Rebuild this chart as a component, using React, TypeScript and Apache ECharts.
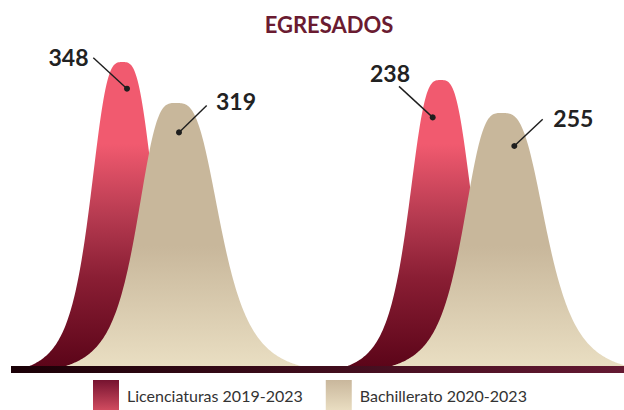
import React, { useEffect, useRef } from "react";
import * as echarts from "echarts";

// ---- data ----
const GROUPS = ["Grupo 1", "Grupo 2"];
const LICENCIATURAS = [348, 238];
const BACHILLERATO = [319, 255];
const SERIES_NAMES = ["Licenciaturas 2019-2023", "Bachillerato 2020-2023"];
const TITLE = "EGRESADOS";

// ---- styling / layout (not data) ----
const FONT = "Lato, 'Noto Sans', sans-serif";
const P = 3.3;
const RED_PROFILE = { aL: 35, aR: 35, bL: 93, bR: 93 };
const BEIGE_PROFILE = { aL: 42, aR: 48, bL: 110, bR: 125 };
const RED_LABELS = [
  { dot: [4.5, 26.6], start: [-29.2, -4.4], text: [-34, -5], align: "right" },
  { dot: [-8, 37.3], start: [-41.7, 6.3], text: [-30.7, -7], align: "right" },
];
const BEIGE_LABELS = [
  { dot: [3.3, 29.4], start: [31, 2.4], text: [40.3, -1.6], align: "left" },
  { dot: [12.6, 33], start: [41, 6.3], text: [51.6, 5], align: "left" },
];

function makeRenderItem(prof: any, labels: any[], kind: "red" | "beige") {
  return (params: any, api: any) => {
    const i = params.dataIndex;
    const cat = api.value(0);
    const v = api.value(1);
    const peak = api.coord([cat, v]);
    const cs = params.coordSys;
    const base = cs.y + cs.height;
    const H = base - peak[1];
    const pts: number[][] = [];
    for (let dx = -prof.bL; dx <= prof.bR; dx += 1) {
      const a = dx < 0 ? prof.aL : prof.aR;
      const B = dx < 0 ? prof.bL : prof.bR;
      const c = 1 / (1 + Math.pow(B / a, P));
      const r = (1 / (1 + Math.pow(Math.abs(dx) / a, P)) - c) / (1 - c);
      pts.push([peak[0] + dx, base - H * Math.max(0, r)]);
    }
    const fill =
      kind === "red"
        ? new echarts.graphic.LinearGradient(
            0, base - 222, 0, base,
            [
              { offset: 0, color: "#F15A6F" },
              { offset: 0.33, color: "#B53A50" },
              { offset: 0.6, color: "#8A1E34" },
              { offset: 1, color: "#5C0519" },
            ],
            true
          )
        : new echarts.graphic.LinearGradient(
            0, base - 120, 0, base,
            [
              { offset: 0, color: "#C8B79B" },
              { offset: 1, color: "#E9DEC2" },
            ],
            true
          );
    const L = labels[i];
    const dot = [peak[0] + L.dot[0], peak[1] + L.dot[1]];
    const st = [peak[0] + L.start[0], peak[1] + L.start[1]];
    return {
      type: "group",
      children: [
        { type: "polygon", shape: { points: pts }, style: { fill } },
        {
          type: "line",
          shape: { x1: st[0], y1: st[1], x2: dot[0], y2: dot[1] },
          style: { stroke: "#1E1E1E", lineWidth: 1.4 },
        },
        {
          type: "circle",
          shape: { cx: dot[0], cy: dot[1], r: 3 },
          style: { fill: "#1E1E1E" },
        },
        {
          type: "text",
          x: peak[0] + L.text[0],
          y: peak[1] + L.text[1],
          style: {
            text: String(v),
            fontFamily: FONT,
            fontWeight: "bold",
            fontSize: 23,
            fill: "#222222",
            align: L.align,
            verticalAlign: "middle",
          },
        },
      ],
    };
  };
}

export default function App() {
  const ref = useRef<HTMLDivElement>(null);
  useEffect(() => {
    if (!ref.current) return;
    const chart = echarts.init(ref.current, undefined, { renderer: "svg" });
    const redData = GROUPS.map((g, i) => [g, LICENCIATURAS[i]]);
    const beigeData = GROUPS.map((g, i) => [g, BACHILLERATO[i]]);
    chart.setOption({
      animation: false,
      backgroundColor: "#ffffff",
      title: {
        text: TITLE,
        left: 324,
        top: 8,
        textAlign: "center",
        textStyle: {
          fontFamily: FONT,
          fontWeight: "bold",
          fontSize: 22,
          color: "#6A1B31",
        },
      },
      legend: {
        left: 93,
        top: 380,
        padding: 0,
        itemWidth: 26,
        itemHeight: 30,
        itemGap: 23,
        icon: "rect",
        textStyle: {
          fontFamily: FONT,
          fontSize: 16,
          color: "#333333",
          padding: [0, 0, 0, 3],
        },
        data: [
          {
            name: SERIES_NAMES[0],
            itemStyle: {
              color: new echarts.graphic.LinearGradient(0, 0, 0, 1, [
                { offset: 0, color: "#761330" },
                { offset: 1, color: "#D04B5F" },
              ]),
            },
          },
          {
            name: SERIES_NAMES[1],
            itemStyle: {
              color: new echarts.graphic.LinearGradient(0, 0, 0, 1, [
                { offset: 0, color: "#C9B79C" },
                { offset: 1, color: "#E9DDC1" },
              ]),
            },
          },
        ],
      },
      grid: [
        { left: -36.6, width: 636.4, top: 40, height: 326, outerBoundsMode: "none", containLabel: false },
        { left: 12.7, width: 652, top: 40, height: 326, outerBoundsMode: "none", containLabel: false },
      ],
      xAxis: [
        { type: "category", data: GROUPS, gridIndex: 0, show: false },
        { type: "category", data: GROUPS, gridIndex: 1, show: false },
      ],
      yAxis: [
        { type: "value", gridIndex: 0, min: -1510, max: 483, show: false },
        { type: "value", gridIndex: 1, min: -1364, max: 722, show: false },
      ],
      graphic: [
        {
          type: "rect",
          z: 100,
          shape: { x: 11, y: 366, width: 613, height: 7 },
          style: {
            fill: new echarts.graphic.LinearGradient(0, 0, 1, 0, [
              { offset: 0, color: "#1A0006" },
              { offset: 1, color: "#641932" },
            ]),
          },
        },
      ],
      series: [
        {
          type: "custom",
          name: SERIES_NAMES[0],
          xAxisIndex: 0,
          yAxisIndex: 0,
          encode: { x: 0, y: 1 },
          data: redData,
          z: 2,
          renderItem: makeRenderItem(RED_PROFILE, RED_LABELS, "red"),
        },
        {
          type: "custom",
          name: SERIES_NAMES[1],
          xAxisIndex: 1,
          yAxisIndex: 1,
          encode: { x: 0, y: 1 },
          data: beigeData,
          z: 3,
          renderItem: makeRenderItem(BEIGE_PROFILE, BEIGE_LABELS, "beige"),
        },
      ],
    });
    return () => chart.dispose();
  }, []);
  return (
    <div
      ref={ref}
      style={{ position: "absolute", left: 0, top: 0, width: 624, height: 410 }}
    />
  );
}
